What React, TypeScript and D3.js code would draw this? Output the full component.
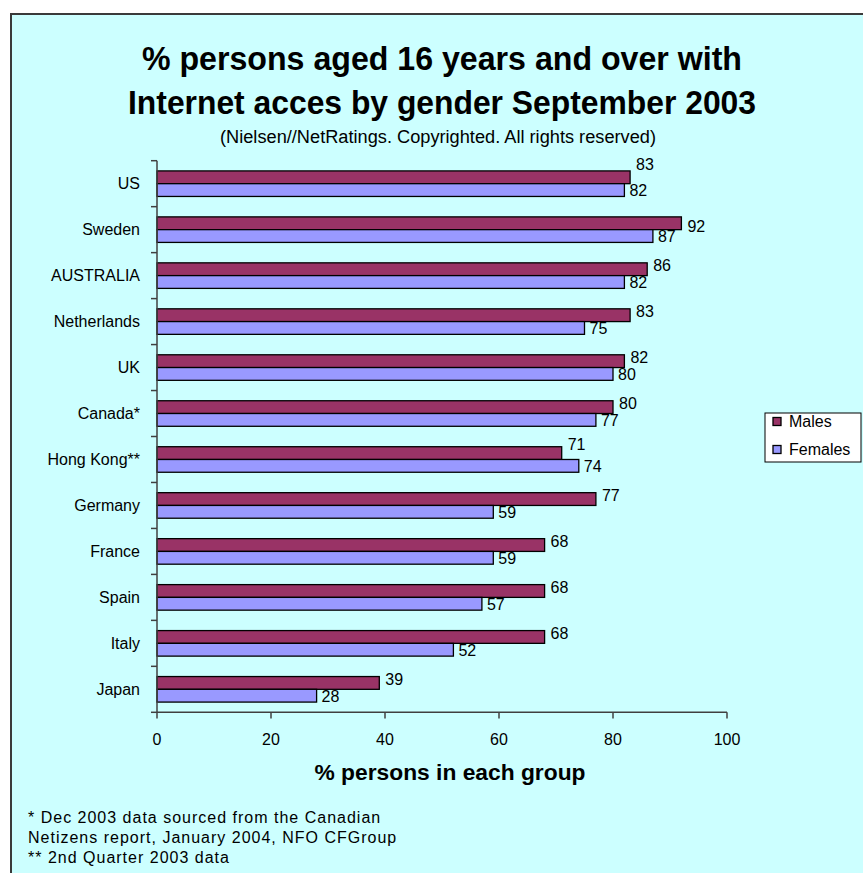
import React from "react";
import * as d3 from "d3";

const categories = ["US", "Sweden", "AUSTRALIA", "Netherlands", "UK", "Canada*", "Hong Kong**", "Germany", "France", "Spain", "Italy", "Japan"];
const males = [83, 92, 86, 83, 82, 80, 71, 77, 68, 68, 68, 39];
const females = [82, 87, 82, 75, 80, 77, 74, 59, 59, 57, 52, 28];
const seriesNames = ["Males", "Females"];
const xTicks = [0, 20, 40, 60, 80, 100];
const titleLines = ["% persons aged 16 years and over with", "Internet acces by gender September 2003"];
const subtitle = "(Nielsen//NetRatings. Copyrighted. All rights reserved)";
const axisTitle = "% persons in each group";
const footnotes = [
  "* Dec 2003 data sourced from the Canadian",
  "Netizens report, January 2004, NFO CFGroup",
  "** 2nd Quarter 2003 data",
];

// label vertical nudges (layout only)
const maleLabelDy: Record<string, number> = { US: -19, Sweden: -3, "Hong Kong**": -15 };

const COLORS = ["#993366", "#9999FF"];
const FONT = "'Liberation Sans', Arial, sans-serif";

export default function App() {
  const x = d3.scaleLinear().domain([0, 100]).range([157, 727]);
  const y = d3.scaleBand<string>().domain(categories).range([160.7, 712.3]).padding(0);
  const sub = d3.scaleBand<string>().domain(seriesNames).range([0, y.bandwidth()]).paddingInner(0).paddingOuter(0.8);
  const values = [males, females];
  const bw = y.bandwidth();

  return (
    <svg width={863} height={873} style={{ position: "absolute", left: 0, top: 0, background: "#fff" }} fontFamily={FONT}>
      <rect x={11} y={14} width={870} height={880} fill="#CCFFFF" stroke="#3a3a3a" strokeWidth={2} />

      {/* title */}
      {titleLines.map((t, i) => (
        <text key={t} x={442} y={58 + i * 44} textAnchor="middle" dominantBaseline="central" fontWeight="bold" fontSize={34}
          textLength={i === 0 ? 600 : 628} lengthAdjust="spacingAndGlyphs" fill="#000">{t}</text>
      ))}
      <text x={438} y={137} textAnchor="middle" dominantBaseline="central" fontSize={18} textLength={436} lengthAdjust="spacingAndGlyphs">{subtitle}</text>

      {/* bars */}
      {categories.map((c, i) => (
        <g key={c} transform={`translate(0,${y(c)})`}>
          {seriesNames.map((s, k) => (
            <rect key={s} x={x(0)} y={sub(s)} width={x(values[k][i]) - x(0)} height={sub.bandwidth()}
              fill={COLORS[k]} stroke="#000" strokeWidth={1.3} />
          ))}
        </g>
      ))}

      {/* value labels */}
      {categories.map((c, i) => {
        const cy = (y(c) as number) + bw / 2;
        return (
          <g key={c + "lbl"} fontSize={16}>
            <text x={x(males[i]) + 6} y={cy + (maleLabelDy[c] ?? -10)} dominantBaseline="central">{males[i]}</text>
            <text x={x(females[i]) + 5} y={cy + 7} dominantBaseline="central">{females[i]}</text>
          </g>
        );
      })}

      {/* y axis */}
      <line x1={x(0)} x2={x(0)} y1={160.7} y2={712.3} stroke="#404040" strokeWidth={1.5} />
      {[...categories.map((c) => y(c) as number), 712.3].map((v, i) => (
        <line key={"yt" + i} x1={x(0) - 6} x2={x(0)} y1={v} y2={v} stroke="#404040" strokeWidth={1.5} />
      ))}
      {categories.map((c) => (
        <text key={c + "cat"} x={140} y={(y(c) as number) + bw / 2} textAnchor="end" dominantBaseline="central" fontSize={16}>{c}</text>
      ))}

      {/* x axis */}
      <line x1={x(0)} x2={x(100)} y1={712.3} y2={712.3} stroke="#404040" strokeWidth={1.5} />
      {xTicks.map((t) => (
        <g key={"xt" + t}>
          <line x1={x(t)} x2={x(t)} y1={712.3} y2={718.5} stroke="#404040" strokeWidth={1.5} />
          <text x={x(t)} y={739} textAnchor="middle" dominantBaseline="central" fontSize={16}>{t}</text>
        </g>
      ))}
      <text x={450} y={772} textAnchor="middle" dominantBaseline="central" fontSize={22} fontWeight="bold" textLength={271} lengthAdjust="spacingAndGlyphs">{axisTitle}</text>

      {/* legend */}
      <rect x={765} y={413} width={96} height={49} fill="#fff" stroke="#000" strokeWidth={1} />
      {seriesNames.map((s, k) => (
        <g key={s + "leg"}>
          <rect x={773} y={417.5 + k * 28} width={8} height={8} fill={COLORS[k]} stroke="#000" strokeWidth={1.3} />
          <text x={789} y={421.5 + k * 28} dominantBaseline="central" fontSize={16}>{s}</text>
        </g>
      ))}

      {/* footnotes */}
      {footnotes.map((f, i) => (
        <text key={f} x={28} y={817 + i * 20} dominantBaseline="central" fontSize={16} letterSpacing={1}>{f}</text>
      ))}
    </svg>
  );
}
